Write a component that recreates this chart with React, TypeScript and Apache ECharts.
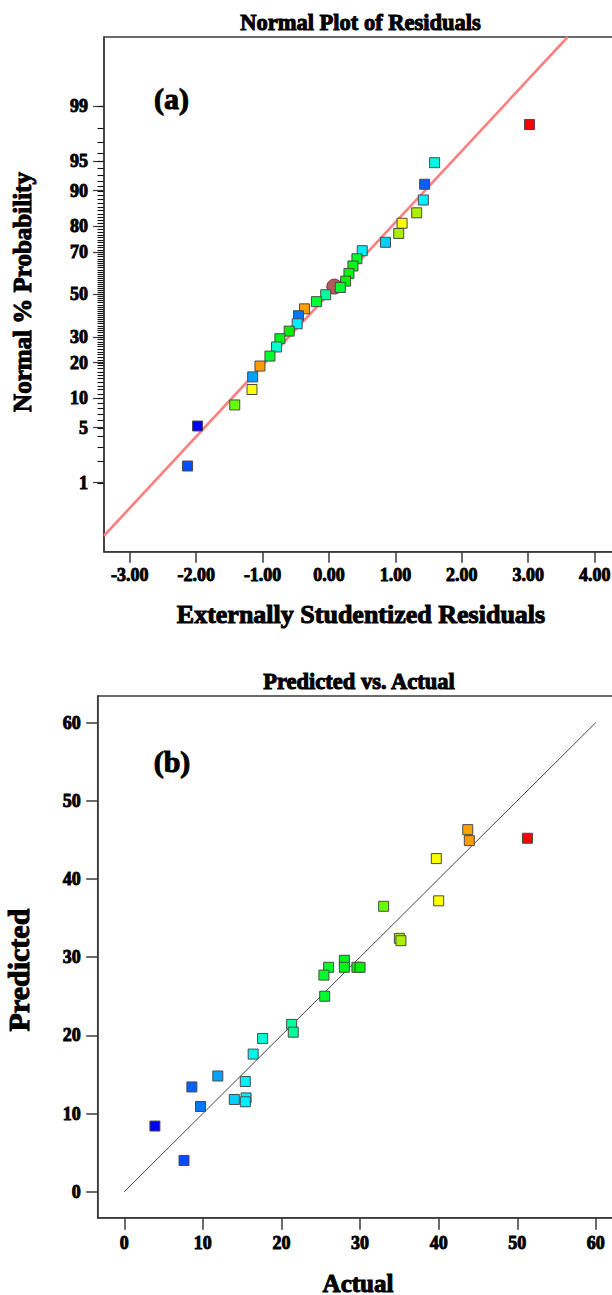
import React, { useEffect, useRef } from "react";
import * as echarts from "echarts";

// ---------- Panel (a): normal plot of residuals ----------
const probTickLabels = [1, 5, 10, 20, 30, 50, 70, 80, 90, 95, 99];
const probMinorTicks = [
  1, 2, 3, 4, 5, 6, 7, 8, 9, 10, 11, 12, 13, 14, 15, 16, 17, 18, 19, 20, 21, 22, 23, 24, 25,
  26, 27, 28, 29, 30, 31, 32, 33, 34, 35, 36, 37, 38, 39, 40, 41, 42, 43, 44, 45, 46, 47, 48,
  49, 50, 51, 52, 53, 54, 55, 56, 57, 58, 59, 60, 61, 62, 63, 64, 65, 66, 67, 68, 69, 70, 71,
  72, 73, 74, 75, 76, 77, 78, 79, 80, 81, 82, 83, 84, 85, 86, 87, 88, 89, 90, 91, 92, 93, 94,
  95, 96, 97, 98, 99,
];
const residTicks = [-3, -2, -1, 0, 1, 2, 3, 4];
const residTickLabels = ["-3.00", "-2.00", "-1.00", "0.00", "1.00", "2.00", "3.00", "4.00"];

// externally studentized residuals (x) and normal % probability (y)
const residuals = [
  3.02, 1.59, 1.44, 1.42, 1.32, 1.1, 1.05, 0.85, 0.5, 0.42, 0.36, 0.3, 0.25, 0.17, -0.05,
  -0.19, -0.37, -0.46, -0.48, -0.6, -0.74, -0.79, -0.89, -1.04, -1.15, -1.16, -1.42, -1.98,
  -2.13,
];
const normalPercent = [
  98.2, 94.8, 91.3, 87.8, 84.3, 81.0, 77.4, 74.0, 70.5, 67.0, 63.7, 60.2, 56.5, 53.4, 49.8,
  46.4, 42.9, 39.6, 35.8, 32.5, 29.2, 25.8, 22.3, 18.8, 15.4, 12.0, 8.6, 5.2, 1.7,
];
// response value of each run (drives point colour)
const residResponse = [
  51.3, 16.4, 8.6, 15.5, 35.2, 40.0, 35.0, 14.0, 15.4, 26.0, 28.0, 28.0, 29.6, 25.4, 21.3,
  25.5, 43.7, 9.7, 15.4, 30.0, 28.0, 17.6, 26.0, 43.9, 11.9, 39.7, 33.0, 3.9, 7.6,
];
const highlightResid = [0.08];
const highlightPercent = [53.8];
const refLineSlope = 0.882;
const refLineIntercept = 0.008;

// ---------- Panel (b): predicted vs actual ----------
const actualTicks = [0, 10, 20, 30, 40, 50, 60];
const predictedTicks = [0, 10, 20, 30, 40, 50, 60];
const actual = [
  43.7, 43.9, 51.3, 39.7, 40.0, 33.0, 35.0, 35.2, 28.0, 26.0, 28.0, 29.6, 30.0, 25.4, 25.5,
  21.3, 21.5, 17.6, 16.4, 11.9, 15.4, 8.6, 9.7, 14.0, 15.5, 15.4, 3.9, 7.6,
];
const predicted = [
  46.3, 44.9, 45.2, 42.6, 37.2, 36.5, 32.4, 32.1, 29.6, 28.7, 28.7, 28.7, 28.7, 27.7, 25.0,
  21.4, 20.4, 19.6, 17.6, 14.8, 14.1, 13.4, 10.9, 11.8, 12.0, 11.5, 8.4, 4.0,
];

// ---------- helpers ----------
function probit(p: number): number {
  const a = [-3.969683028665376e1, 2.209460984245205e2, -2.759285104469687e2, 1.38357751867269e2, -3.066479806614716e1, 2.506628277459239];
  const b = [-5.447609879822406e1, 1.615858368580409e2, -1.556989798598866e2, 6.680131188771972e1, -1.328068155288572e1];
  const c = [-7.784894002430293e-3, -3.223964580411365e-1, -2.400758277161838, -2.549732539343734, 4.374664141464968, 2.938163982698783];
  const d = [7.784695709041462e-3, 3.224671290700398e-1, 2.445134137142996, 3.754408661907416];
  const pl = 0.02425;
  const ph = 1 - pl;
  if (p < pl) {
    const q = Math.sqrt(-2 * Math.log(p));
    return (((((c[0] * q + c[1]) * q + c[2]) * q + c[3]) * q + c[4]) * q + c[5]) / ((((d[0] * q + d[1]) * q + d[2]) * q + d[3]) * q + 1);
  }
  if (p <= ph) {
    const q = p - 0.5;
    const r = q * q;
    return ((((((a[0] * r + a[1]) * r + a[2]) * r + a[3]) * r + a[4]) * r + a[5]) * q) / (((((b[0] * r + b[1]) * r + b[2]) * r + b[3]) * r + b[4]) * r + 1);
  }
  const q = Math.sqrt(-2 * Math.log(1 - p));
  return -(((((c[0] * q + c[1]) * q + c[2]) * q + c[3]) * q + c[4]) * q + c[5]) / ((((d[0] * q + d[1]) * q + d[2]) * q + d[3]) * q + 1);
}

const colorStops: [number, string][] = [
  [3.9, "#0000ff"],
  [8, "#0055ff"],
  [12, "#00a5ff"],
  [15.5, "#00f0ff"],
  [17.6, "#00ffd5"],
  [21.4, "#00ff99"],
  [25, "#00ff33"],
  [30, "#00f000"],
  [33, "#66ff00"],
  [35, "#aaee00"],
  [40, "#ffff00"],
  [44, "#ff9900"],
  [51.3, "#ff0000"],
];
function hexToRgb(h: string) {
  return [parseInt(h.slice(1, 3), 16), parseInt(h.slice(3, 5), 16), parseInt(h.slice(5, 7), 16)];
}
function colorFor(v: number): string {
  if (v <= colorStops[0][0]) return colorStops[0][1];
  for (let i = 1; i < colorStops.length; i++) {
    if (v <= colorStops[i][0]) {
      const [v0, c0] = colorStops[i - 1];
      const [v1, c1] = colorStops[i];
      const t = (v - v0) / (v1 - v0);
      const a = hexToRgb(c0);
      const b = hexToRgb(c1);
      const m = a.map((x, k) => Math.round(x + (b[k] - x) * t));
      return `rgb(${m[0]},${m[1]},${m[2]})`;
    }
  }
  return colorStops[colorStops.length - 1][1];
}

const FONT = "Liberation Serif";
const tickText = {
  fontFamily: FONT,
  fontWeight: "bold" as const,
  fontSize: 18,
  color: "#000",
  textBorderColor: "#000",
  textBorderWidth: 0.9,
};
const axisColor = "#3a3a3a";

function gtext(text: string, x: number, y: number, size: number, rotate = 0) {
  return {
    type: "text",
    x,
    y,
    rotation: rotate,
    style: {
      text,
      x: 0,
      y: 0,
      align: "center",
      verticalAlign: "middle",
      fontFamily: FONT,
      fontWeight: "bold",
      fontSize: size,
      fill: "#000",
      stroke: "#000",
      lineWidth: 1,
    },
  };
}

const CHART_W = 640;

export default function App() {
  const ref = useRef<HTMLDivElement>(null);
  useEffect(() => {
    if (!ref.current) return;
    const chart = echarts.init(ref.current, undefined, { renderer: "svg" });

    const zMax = 3.178;
    const xMinA = -3.389;
    const xMinB = -3.38;
    const probZ = probTickLabels.map((p) => probit(p / 100));
    const minorZ = probMinorTicks.map((p) => probit(p / 100));
    const xTopA = (zMax - refLineIntercept) / refLineSlope;

    const pointsA = residuals.map((r, i) => ({
      value: [r, probit(normalPercent[i] / 100)],
      itemStyle: { color: colorFor(residResponse[i]) },
    }));
    const pointsB = actual.map((a, i) => ({
      value: [a, predicted[i]],
      itemStyle: { color: colorFor(a) },
    }));

    chart.setOption({
      animation: false,
      grid: [
        { left: 104, top: 37, right: 0, bottom: 743.3, show: true, borderColor: axisColor, borderWidth: 1.5 },
        { left: 97.7, top: 696, right: 0, bottom: 77.3, show: true, borderColor: axisColor, borderWidth: 1.5 },
      ],
      xAxis: [
        {
          gridIndex: 0,
          type: "value",
          min: xMinA,
          max: xMinA + (CHART_W - 104) / 66.4,
          splitLine: { show: false },
          axisLine: { show: true, onZero: false, lineStyle: { color: axisColor, width: 1.5 } },
          axisTick: { show: true, length: 11, customValues: residTicks, lineStyle: { color: axisColor, width: 1.5 } },
          axisLabel: {
            ...tickText,
            margin: 14,
            customValues: residTicks,
            formatter: (v: number) => {
              const i = residTicks.findIndex((t) => Math.abs(t - v) < 1e-6);
              return i >= 0 ? residTickLabels[i] : "";
            },
          },
        },
        {
          gridIndex: 1,
          type: "value",
          min: xMinB,
          max: xMinB + (CHART_W - 97.7) / 7.86,
          splitLine: { show: false },
          axisLine: { show: true, onZero: false, lineStyle: { color: axisColor, width: 1.5 } },
          axisTick: { show: true, length: 12, customValues: actualTicks, lineStyle: { color: axisColor, width: 1.5 } },
          axisLabel: { ...tickText, margin: 16, customValues: actualTicks },
        },
      ],
      yAxis: [
        {
          gridIndex: 0,
          type: "value",
          position: "left",
          min: -zMax,
          max: zMax,
          splitLine: { show: false },
          axisLine: { show: true, onZero: false, lineStyle: { color: axisColor, width: 1.5 } },
          axisTick: { show: true, length: 11, customValues: probZ, lineStyle: { color: axisColor, width: 1.2 } },
          axisLabel: {
            ...tickText,
            margin: 16,
            customValues: probZ,
            formatter: (v: number) => {
              let best = 0;
              for (let i = 1; i < probZ.length; i++) {
                if (Math.abs(probZ[i] - v) < Math.abs(probZ[best] - v)) best = i;
              }
              return String(probTickLabels[best]);
            },
          },
        },
        {
          gridIndex: 1,
          type: "value",
          position: "left",
          min: -3.32,
          max: 63.39,
          splitLine: { show: false },
          axisLine: { show: true, onZero: false, lineStyle: { color: axisColor, width: 1.5 } },
          axisTick: { show: true, length: 11.5, customValues: predictedTicks, lineStyle: { color: axisColor, width: 1.5 } },
          axisLabel: { ...tickText, margin: 17, customValues: predictedTicks },
        },
      ],
      series: [
        {
          type: "custom",
          xAxisIndex: 0,
          yAxisIndex: 0,
          silent: true,
          clip: false,
          data: minorZ.map((z) => [xMinA, z]),
          renderItem: (params: any, api: any) => {
            const p = api.coord([api.value(0), api.value(1)]);
            const y = Math.round(p[1]) + 0.5;
            return {
              type: "line",
              z2: 10,
              shape: { x1: p[0] - 6.5, y1: y, x2: p[0] - 0.5, y2: y },
              style: { stroke: "#111", lineWidth: 1.1 },
            };
          },
          z: 5,
        },
        {
          type: "line",
          xAxisIndex: 0,
          yAxisIndex: 0,
          symbol: "none",
          data: [
            [xMinA, refLineSlope * xMinA + refLineIntercept],
            [xTopA, zMax],
          ],
          lineStyle: { color: "#ff7f7f", width: 2.6 },
          z: 1,
        },
        {
          type: "scatter",
          xAxisIndex: 0,
          yAxisIndex: 0,
          symbol: "circle",
          symbolSize: 15,
          data: highlightResid.map((r, i) => [r, probit(highlightPercent[i] / 100)]),
          itemStyle: { color: "#b35a5a", borderColor: "#6e3434", borderWidth: 1, opacity: 1 },
          z: 2,
        },
        {
          type: "scatter",
          xAxisIndex: 0,
          yAxisIndex: 0,
          symbol: "rect",
          symbolSize: 10,
          data: pointsA,
          itemStyle: { borderColor: "#4a4a4a", borderWidth: 1, opacity: 1 },
          z: 3,
        },
        {
          type: "line",
          xAxisIndex: 1,
          yAxisIndex: 1,
          symbol: "none",
          data: [
            [0, 0],
            [60, 60],
          ],
          lineStyle: { color: "#444", width: 1 },
          z: 1,
        },
        {
          type: "scatter",
          xAxisIndex: 1,
          yAxisIndex: 1,
          symbol: "rect",
          symbolSize: 10,
          data: pointsB,
          itemStyle: { borderColor: "#4a4a4a", borderWidth: 1, opacity: 1 },
          z: 3,
        },
      ],
      graphic: [
        gtext("Normal Plot of Residuals", 360.5, 22, 22.5),
        gtext("Externally Studentized Residuals", 361, 614, 26),
        gtext("Normal % Probability", 22, 292, 25, Math.PI / 2),
        gtext("(a)", 171.5, 98.5, 30),
        gtext("Predicted vs. Actual", 359, 681, 22.5),
        gtext("Actual", 358, 1283, 25),
        gtext("Predicted", 18, 970, 30, Math.PI / 2),
        gtext("(b)", 172, 761.5, 30),
      ],
    });
    return () => chart.dispose();
  }, []);
  return (
    <div style={{ position: "absolute", left: 0, top: 0, width: 612, height: 1295, overflow: "hidden" }}>
      <div ref={ref} style={{ width: CHART_W, height: 1295 }} />
    </div>
  );
}
